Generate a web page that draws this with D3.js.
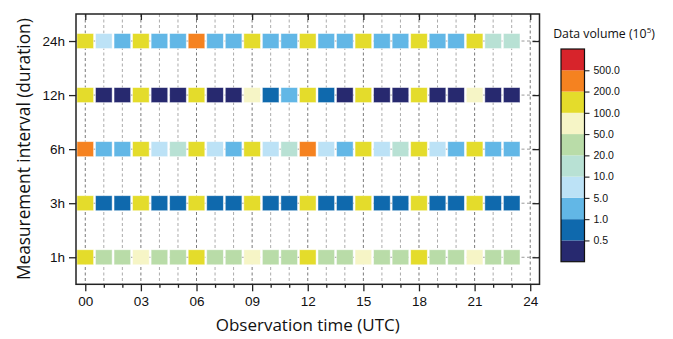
<!DOCTYPE html>
<html>
<head>
<meta charset="utf-8">
<script src="https://cdn.jsdelivr.net/npm/d3@7"></script>
<style>
  html, body { margin: 0; padding: 0; background: #fff; }
  svg { display: block; font-family: "Open Sans", "Liberation Sans", sans-serif; }
</style>
</head>
<body>
<svg id="chart" width="673" height="339"></svg>
<script>
// ---- data ----
const hours = d3.range(0, 24);
const intervals = ["1h", "3h", "6h", "12h", "24h"];
const xTickLabels = ["00", "03", "06", "09", "12", "15", "18", "21", "24"];
const binEdges = [0.5, 1, 5, 10, 20, 50, 100, 200, 500];
const binLabels = ["0.5", "1.0", "5.0", "10.0", "20.0", "50.0", "100.0", "200.0", "500.0"];
const binColors = ["#27296f", "#0f69ad", "#62b7e6", "#bce2f6", "#b8e1d4", "#b9dca8", "#f6f5c6", "#e4dc2b", "#f58220", "#d7242b"];

// estimated data volume (x10^5) per hour, per measurement interval
const vol1h  = [150, 30, 30, 70, 30, 30, 150, 30, 30, 70, 30, 30, 150, 30, 30, 70, 30, 30, 150, 30, 30, 70, 30, 30];
const vol3h  = [150, 0.8, 0.8, 150, 0.8, 0.8, 150, 0.8, 0.8, 150, 0.8, 0.8, 150, 0.8, 0.8, 150, 0.8, 0.8, 150, 0.8, 0.8, 150, 0.8, 0.8];
const vol6h  = [300, 3, 3, 150, 7, 15, 150, 7, 3, 150, 7, 15, 300, 7, 3, 150, 7, 15, 150, 7, 3, 150, 3, 3];
const vol12h = [150, 0.3, 0.3, 150, 0.3, 0.3, 150, 0.3, 0.3, 70, 0.8, 3, 150, 0.8, 0.3, 150, 0.3, 0.3, 150, 0.3, 0.3, 70, 0.3, 0.3];
const vol24h = [150, 7, 3, 150, 3, 3, 300, 3, 3, 150, 3, 3, 150, 3, 3, 150, 3, 3, 150, 3, 3, 150, 15, 15];
const seriesByInterval = { "1h": vol1h, "3h": vol3h, "6h": vol6h, "12h": vol12h, "24h": vol24h };

// ---- layout ----
const svg = d3.select("#chart");
const L = 76, R = 539.5, T = 14, B = 284.3;

const x = d3.scaleLinear().domain([-0.5, 24.5]).range([L, R]);
const y = d3.scalePoint().domain(intervals).range([B, T]).padding(0.5);
const color = d3.scaleThreshold().domain(binEdges).range(binColors);

const cellW = 16.6, cellH = 15;

// grid lines
const grid = svg.append("g");
d3.range(0, 25).forEach(h => {
  grid.append("line")
    .attr("x1", x(h)).attr("x2", x(h)).attr("y1", T).attr("y2", B)
    .attr("stroke", h % 3 === 0 ? "#7a7a7a" : "#ababab")
    .attr("stroke-width", 1)
    .attr("stroke-dasharray", "3,2.5");
});
intervals.forEach(iv => {
  grid.append("line")
    .attr("x1", L).attr("x2", R).attr("y1", y(iv)).attr("y2", y(iv))
    .attr("stroke", "#9a9a9a").attr("stroke-width", 1)
    .attr("stroke-dasharray", "3,2.5");
});

// cells
const cells = [];
intervals.forEach(iv => seriesByInterval[iv].forEach((v, i) => cells.push({ iv, h: hours[i], v })));
svg.append("g").selectAll("rect").data(cells).join("rect")
  .attr("x", d => x(d.h) - cellW / 2)
  .attr("y", d => y(d.iv) - cellH / 2)
  .attr("width", cellW).attr("height", cellH)
  .attr("fill", d => color(d.v))
  .attr("stroke", "#ffffff").attr("stroke-opacity", 0.55).attr("stroke-width", 0.8);

// axes
const axW = 1.5, axC = "#222";
const xMajor = d3.range(0, 25, 3);
const xMinor = d3.range(0, 25).filter(h => h % 3 !== 0);

const xAxis = svg.append("g").attr("transform", `translate(0,${B})`)
  .call(d3.axisBottom(x).tickValues(xMajor).tickFormat((d, i) => xTickLabels[i]).tickSize(7).tickPadding(5));
const xAxisMinor = svg.append("g").attr("transform", `translate(0,${B})`)
  .call(d3.axisBottom(x).tickValues(xMinor).tickFormat("").tickSize(3.5));
const xTop = svg.append("g").attr("transform", `translate(0,${T})`)
  .call(d3.axisBottom(x).tickValues(xMajor).tickFormat("").tickSize(6));
const yAxis = svg.append("g").attr("transform", `translate(${L},0)`)
  .call(d3.axisLeft(y).tickSize(7).tickPadding(4));
const yRight = svg.append("g").attr("transform", `translate(${R},0)`)
  .call(d3.axisLeft(y).tickSize(7).tickFormat(""));

[xAxis, xAxisMinor, xTop, yAxis, yRight].forEach(g => {
  g.select(".domain").remove();
  g.selectAll(".tick line").attr("stroke", axC).attr("stroke-width", 1.3);
  g.selectAll(".tick text").attr("fill", "#111").attr("font-size", 13.5);
});

// frame
svg.append("rect").attr("x", L).attr("y", T).attr("width", R - L).attr("height", B - T)
  .attr("fill", "none").attr("stroke", axC).attr("stroke-width", axW);

// axis titles
svg.append("text").attr("x", (L + R) / 2).attr("y", 331)
  .attr("text-anchor", "middle").attr("font-size", 17).attr("fill", "#111")
  .text("Observation time (UTC)");
svg.append("text").attr("transform", `translate(30,${(T + B) / 2}) rotate(-90)`)
  .attr("text-anchor", "middle").attr("font-size", 17.3).attr("fill", "#111")
  .text("Measurement interval (duration)");

// colorbar legend
const cbL = 561, cbW = 23.5, cbT = 49, cbB = 261.7;
const cy = d3.scaleLinear().domain([0, binColors.length]).range([cbB, cbT]);
const cb = svg.append("g");
cb.selectAll("rect").data(binColors).join("rect")
  .attr("x", cbL).attr("y", (d, i) => cy(i + 1))
  .attr("width", cbW).attr("height", (d, i) => cy(i) - cy(i + 1))
  .attr("fill", d => d);
cb.append("rect").attr("x", cbL).attr("y", cbT).attr("width", cbW).attr("height", cbB - cbT)
  .attr("fill", "none").attr("stroke", "#111").attr("stroke-width", 1.2);
const cbAxis = svg.append("g").attr("transform", `translate(${cbL + cbW},0)`)
  .call(d3.axisRight(cy).tickValues(d3.range(1, binEdges.length + 1))
    .tickFormat(d => binLabels[d - 1]).tickSize(5).tickPadding(4));
cbAxis.select(".domain").remove();
cbAxis.selectAll(".tick line").attr("stroke", "#222").attr("stroke-width", 1.1);
cbAxis.selectAll(".tick text").attr("font-size", 10.5).attr("fill", "#111");

const title = svg.append("text").attr("x", 604).attr("y", 38)
  .attr("text-anchor", "middle").attr("font-size", 12.3).attr("fill", "#111");
title.append("tspan").text("Data volume (10");
title.append("tspan").attr("font-size", 8).attr("dy", -5).text("5");
title.append("tspan").attr("dy", 5).text(")");
</script>
</body>
</html>
